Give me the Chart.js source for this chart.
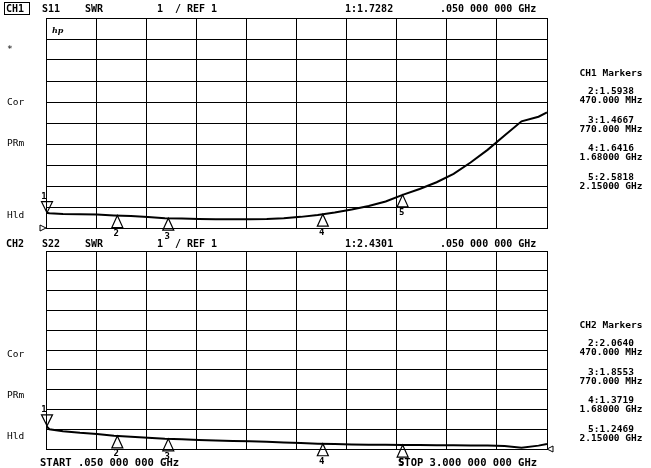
<!DOCTYPE html>
<html>
<head>
<meta charset="utf-8">
<script src="https://cdn.jsdelivr.net/npm/chart.js@4"></script>
<style>
html, body { margin: 0; padding: 0; background: #fff; }
#wrap { position: relative; width: 651px; height: 468px; }
canvas { position: absolute; left: 0; top: 0; }
</style>
</head>
<body>
<div id="wrap">
	<canvas id="ch1" width="651" height="468"></canvas>
	<canvas id="ch2" width="651" height="468"></canvas>
</div>
<script>
// sweep points (GHz)
const freqs = [0.05, 0.07, 0.15, 0.25, 0.35, 0.45, 0.55, 0.65, 0.75, 0.85, 0.95, 1.05, 1.15, 1.25, 1.35, 1.45,
	1.55, 1.65, 1.75, 1.85, 1.95, 2.05, 2.15, 2.25, 2.35, 2.45, 2.55, 2.65, 2.75, 2.85, 2.95, 3.00];

// CH1 S11 SWR trace
const s11 = [1.73, 1.70, 1.67, 1.66, 1.64, 1.60, 1.57, 1.52, 1.47, 1.45, 1.43, 1.42, 1.42, 1.42, 1.43, 1.46,
	1.53, 1.62, 1.74, 1.88, 2.05, 2.26, 2.58, 2.86, 3.18, 3.58, 4.12, 4.72, 5.40, 6.08, 6.30, 6.50];

// CH2 S22 SWR trace
const s22 = [2.17, 2.00, 1.90, 1.82, 1.76, 1.67, 1.62, 1.57, 1.52, 1.49, 1.46, 1.43, 1.41, 1.39, 1.36, 1.33,
	1.30, 1.27, 1.25, 1.23, 1.22, 1.21, 1.20, 1.20, 1.19, 1.19, 1.18, 1.18, 1.15, 1.06, 1.17, 1.25];

const markerFreqs = [0.05, 0.47, 0.77, 1.68, 2.15];
const markerFreqText = ['.050 000 000 GHz', '470.000 MHz', '770.000 MHz', '1.68000 GHz', '2.15000 GHz'];
const s11MarkerVals = ['1.7282', '1.5938', '1.4667', '1.6416', '2.5818'];
const s22MarkerVals = ['2.4301', '2.0640', '1.8553', '1.3719', '1.2469'];

const FONT = '"DejaVu Sans Mono", monospace';

function valueAt(xs, ys, f) {
	for (let i = 1; i < xs.length; i++) {
		if (f <= xs[i]) {
			const t = (f - xs[i - 1]) / (xs[i] - xs[i - 1]);
			return ys[i - 1] + t * (ys[i] - ys[i - 1]);
		}
	}
	return ys[ys.length - 1];
}

function tri(ctx, x, yApex, h, up) {
	const w = 5.5;
	const yb = up ? yApex + h : yApex - h;
	ctx.beginPath();
	ctx.moveTo(x, yApex);
	ctx.lineTo(x - w, yb);
	ctx.lineTo(x + w, yb);
	ctx.closePath();
	ctx.stroke();
}

function panelPlugin(p) {
	return {
		id: 'panel' + p.ch,
		afterDraw(chart) {
			const ctx = chart.ctx;
			const xs = chart.scales.x, ys = chart.scales.y;
			const a = chart.chartArea;
			ctx.save();
			ctx.fillStyle = '#000';
			ctx.strokeStyle = '#000';
			ctx.textBaseline = 'middle';
			ctx.textAlign = 'left';

			// header line
			const hy = p.headerY;
			ctx.font = 'bold 10px ' + FONT;
			ctx.fillText('CH' + p.ch, 6, hy);
			if (p.ch === 1) {
				ctx.lineWidth = 1;
				ctx.strokeRect(4.5, hy - 6.5, 25, 12);
			}
			ctx.fillText(p.param, 42, hy);
			ctx.fillText('SWR', 85, hy);
			ctx.fillText('1', 157, hy);
			ctx.fillText('/ REF 1', 175, hy);
			ctx.fillText('1:' + p.vals[0], 345, hy);
			ctx.fillText(markerFreqText[0], 440, hy);

			// left softkey labels
			ctx.font = '9.5px ' + FONT;
			p.leftY.forEach((y, i) => ctx.fillText(p.leftText[i], 7, y));

			if (p.ch === 1) {
				ctx.font = 'italic bold 8px "DejaVu Serif", serif';
				ctx.fillText('hp', a.left + 6, a.top + 13);
			}

			// reference position marker
			ctx.lineWidth = 1;
			ctx.beginPath();
			if (p.ch === 1) {
				ctx.moveTo(a.left - 6, a.bottom - 3);
				ctx.lineTo(a.left, a.bottom);
				ctx.lineTo(a.left - 6, a.bottom + 3);
			} else {
				ctx.moveTo(a.right + 6, a.bottom - 3);
				ctx.lineTo(a.right, a.bottom);
				ctx.lineTo(a.right + 6, a.bottom + 3);
			}
			ctx.closePath();
			ctx.stroke();

			// trace markers
			ctx.lineWidth = 1.2;
			ctx.font = 'bold 9px ' + FONT;
			ctx.textAlign = 'center';
			markerFreqs.forEach((f, i) => {
				const px = xs.getPixelForValue(f);
				const py = ys.getPixelForValue(valueAt(freqs, p.trace, f));
				if (i === 0) {
					tri(ctx, px + 1, py, 11, false);
					ctx.fillText('1', px - 2, py - 16);
				} else {
					tri(ctx, px, py, 12, true);
					ctx.fillText(String(i + 1), px - 1, py + 18);
				}
			});

			// marker readout on the right
			ctx.font = 'bold 9.5px ' + FONT;
			ctx.fillText('CH' + p.ch + ' Markers', 611, p.sideY);
			for (let i = 1; i < 5; i++) {
				const y = p.sideY + 18 + (i - 1) * 28.5;
				ctx.fillText((i + 1) + ':' + p.vals[i], 611, y);
				ctx.fillText(markerFreqText[i], 611, y + 9);
			}

			if (p.ch === 2) {
				ctx.textAlign = 'left';
				ctx.font = 'bold 10.5px ' + FONT;
				ctx.fillText('START .050 000 000 GHz', 40, 463);
				ctx.fillText('STOP 3.000 000 000 GHz', 398, 463);
			}
			ctx.restore();
		}
	};
}

function makeChart(id, p) {
	return new Chart(document.getElementById(id), {
		type: 'line',
		data: {
			datasets: [{
				data: freqs.map((f, i) => ({ x: f, y: p.trace[i] })),
				borderColor: '#000',
				borderWidth: 2,
				pointRadius: 0,
				tension: 0
			}]
		},
		options: {
			responsive: false,
			animation: false,
			layout: { padding: p.pad },
			plugins: { legend: { display: false }, tooltip: { enabled: false } },
			scales: {
				x: {
					type: 'linear', min: 0.05, max: 3.0,
					afterBuildTicks: s => { s.ticks = Array.from({ length: 11 }, (_, i) => ({ value: 0.05 + i * 0.295 })); },
					ticks: { display: false },
					grid: { color: '#000', lineWidth: 1, drawTicks: false },
					border: { color: '#000', width: 1 }
				},
				y: {
					min: 1, max: 11,
					ticks: { display: false, stepSize: 1 },
					grid: { color: '#000', lineWidth: 1, drawTicks: false },
					border: { color: '#000', width: 1 }
				}
			}
		},
		plugins: [panelPlugin(p)]
	});
}

makeChart('ch1', {
	ch: 1, param: 'S11', trace: s11, vals: s11MarkerVals,
	pad: { left: 46, right: 104, top: 18, bottom: 240 },
	headerY: 9, sideY: 74,
	leftY: [50, 103, 144, 216], leftText: ['*', 'Cor', 'PRm', 'Hld']
});
makeChart('ch2', {
	ch: 2, param: 'S22', trace: s22, vals: s22MarkerVals,
	pad: { left: 46, right: 104, top: 251, bottom: 19 },
	headerY: 244, sideY: 326,
	leftY: [355, 396, 437], leftText: ['Cor', 'PRm', 'Hld']
});
</script>
</body>
</html>
